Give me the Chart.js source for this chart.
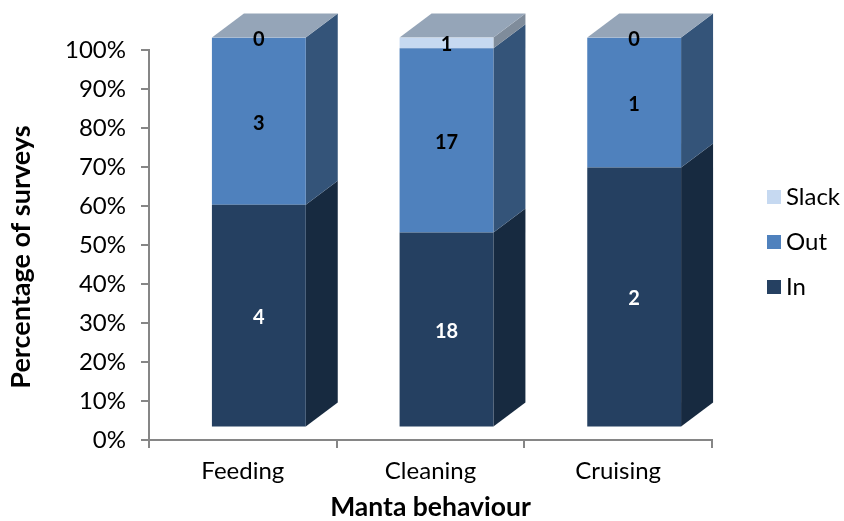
<!DOCTYPE html>
<html>
<head>
<meta charset="utf-8">
<title>Manta behaviour</title>
<script src="https://cdn.jsdelivr.net/npm/chart.js@4/dist/chart.umd.js"></script>
<style>
  html, body { margin: 0; padding: 0; background: #fff; }
  canvas { display: block; }
</style>
</head>
<body>
<canvas id="myChart" width="844" height="521"></canvas>
<script>
const categories = ["Feeding", "Cleaning", "Cruising"];
const inCounts = [4, 18, 2];
const outCounts = [3, 17, 1];
const slackCounts = [0, 1, 0];
const seriesNames = ["In", "Out", "Slack"];
const frontColors = ["#254061", "#4f81bd", "#c6d9f1"];
const sideColors = ["#172a40", "#345479", "#7f8c9b"];
const labelColors = ["#ffffff", "#000000", "#000000"];
const yTitle = "Percentage of surveys";
const topColor = "#95a5b8";
const axisColor = "#868686";
const fontName = "Lato";

const counts = [inCounts, outCounts, slackCounts];
const totals = categories.map((c, i) => inCounts[i] + outCounts[i] + slackCounts[i]);

const frontShift = { x: 16, y: -12.5 };
const depth = { x: 32, y: -24 };

function drawFace(ctx, points, color) {
  ctx.fillStyle = color;
  ctx.beginPath();
  points.forEach((p, i) => i ? ctx.lineTo(p[0], p[1]) : ctx.moveTo(p[0], p[1]));
  ctx.closePath();
  ctx.fill();
}

const boxes3d = {
  id: "boxes3d",
  beforeDatasetsDraw(chart) {
    const ctx = chart.ctx;
    ctx.save();
    ctx.translate(frontShift.x, frontShift.y);
    chart.data.datasets.forEach((ds, d) => {
      chart.getDatasetMeta(d).data.forEach(bar => {
        const right = bar.x + bar.width / 2;
        drawFace(ctx, [[right, bar.y], [right + depth.x, bar.y + depth.y], [right + depth.x, bar.base + depth.y], [right, bar.base]], sideColors[d]);
      });
    });
    // the roof sits on the last series, also where that series is zero
    const last = chart.data.datasets.length - 1;
    chart.getDatasetMeta(last).data.forEach(bar => {
      const left = bar.x - bar.width / 2;
      const right = bar.x + bar.width / 2;
      drawFace(ctx, [[left, bar.y], [right, bar.y], [right + depth.x, bar.y + depth.y], [left + depth.x, bar.y + depth.y]], topColor);
    });
  },
  afterDatasetsDraw(chart) {
    const ctx = chart.ctx;
    ctx.font = "bold 20px " + fontName;
    ctx.textAlign = "center";
    ctx.textBaseline = "middle";
    chart.data.datasets.forEach((ds, d) => {
      chart.getDatasetMeta(d).data.forEach((bar, i) => {
        ctx.fillStyle = labelColors[d];
        ctx.fillText(String(counts[d][i]), bar.x, (bar.y + bar.base) / 2 + 2);
      });
    });
    ctx.restore();
  },
  afterDraw(chart) {
    const ctx = chart.ctx;
    ctx.save();
    ctx.font = "24px " + fontName;
    ctx.textBaseline = "middle";
    ctx.textAlign = "left";
    for (let d = seriesNames.length - 1, row = 0; d >= 0; d--, row++) {
      const y = 197 + row * 45;
      ctx.fillStyle = frontColors[d];
      ctx.fillRect(767, y - 7, 14, 14);
      ctx.fillStyle = "#000000";
      ctx.fillText(seriesNames[d], 786, y);
    }
    // y title sits lower than the axis centre, so it is placed here and not by the scale
    ctx.translate(21, 257);
    ctx.rotate(-Math.PI / 2);
    ctx.font = "bold 27px " + fontName;
    ctx.textAlign = "center";
    ctx.fillText(yTitle, 0, 0);
    ctx.restore();
  }
};

new Chart(document.getElementById("myChart").getContext("2d"), {
  type: "bar",
  data: {
    labels: categories,
    datasets: seriesNames.map((name, d) => ({
      label: name,
      data: counts[d].map((v, i) => v / totals[i] * 100),
      backgroundColor: frontColors[d],
      borderWidth: 0,
      categoryPercentage: 0.5,
      barPercentage: 1
    }))
  },
  options: {
    responsive: false,
    animation: false,
    layout: { padding: { left: 0, right: 132, top: 50, bottom: 0 } },
    plugins: { legend: { display: false }, tooltip: { enabled: false } },
    scales: {
      x: {
        stacked: true,
        afterFit(scale) { scale.height = 81; },
        border: { color: axisColor, width: 2 },
        grid: { drawOnChartArea: false, color: axisColor, lineWidth: 2, tickLength: 8, offset: true },
        ticks: { color: "#000000", font: { family: fontName, size: 24 }, padding: 9, maxRotation: 0 },
        title: { display: true, text: "Manta behaviour", color: "#000000", font: { family: fontName, size: 26.5, weight: "bold", lineHeight: 1 }, padding: { top: 0, bottom: 0 } }
      },
      y: {
        stacked: true,
        min: 0,
        max: 100,
        afterFit(scale) { scale.width = 149; },
        border: { color: axisColor, width: 2 },
        grid: { drawOnChartArea: false, color: axisColor, lineWidth: 2, tickLength: 8 },
        ticks: { stepSize: 10, color: "#000000", font: { family: fontName, size: 24 }, padding: 15, callback: v => v + "%" }
      }
    }
  },
  plugins: [boxes3d]
});
</script>
</body>
</html>
